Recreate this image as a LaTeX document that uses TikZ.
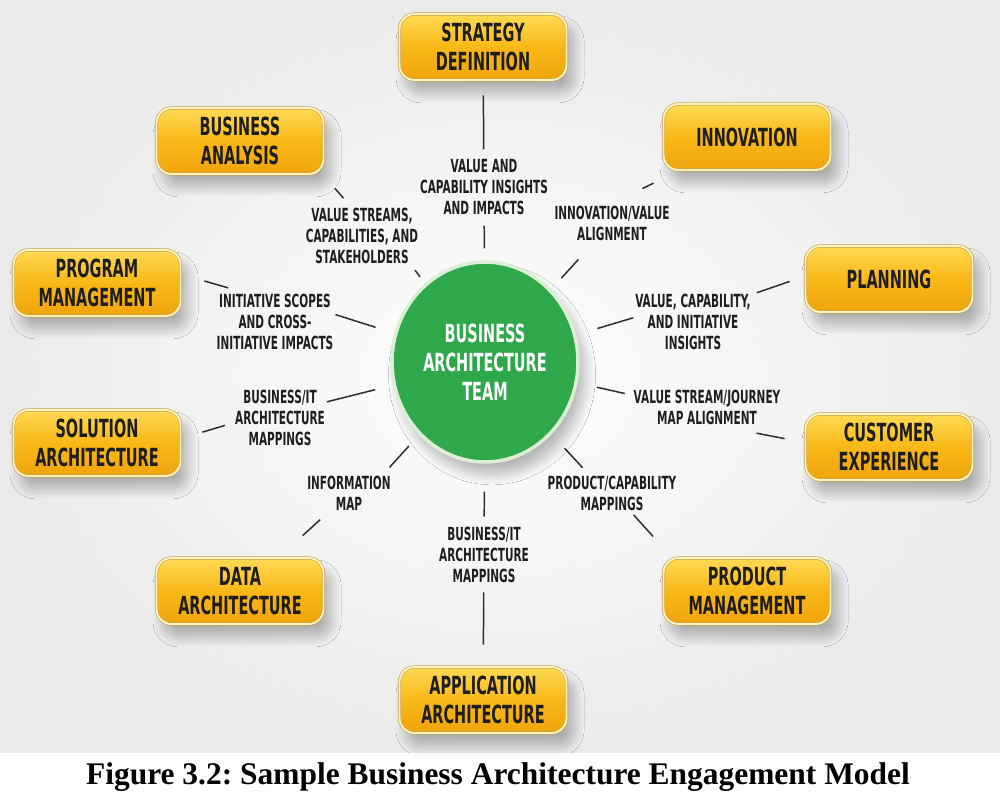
\documentclass[tikz,border=0pt]{standalone}
\usepackage{fontspec}
\setmainfont{Liberation Serif}
\newfontfamily\narrowfont[FakeStretch=0.58]{DejaVu Sans}
\usepackage{tikz}
\usetikzlibrary{shapes.geometric, shadows.blur}

\definecolor{boxtop}{HTML}{FFDA55}
\definecolor{boxmid}{HTML}{F9B818}
\definecolor{boxbot}{HTML}{EFA40C}
\definecolor{boxrim}{HTML}{FFF3C2}
\definecolor{boxedge}{HTML}{C9A24E}
\definecolor{teamgreen}{HTML}{2EA84B}
\definecolor{teamrim}{HTML}{DCEFD5}
\definecolor{linkgray}{HTML}{2E2E2E}
\definecolor{textdark}{HTML}{1E1E1E}
\definecolor{bggray}{HTML}{EBEBEB}

\begin{document}
\frenchspacing
\begin{tikzpicture}[
    x=0.02cm, y=-0.02cm,
    soft/.style={blur shadow={shadow xshift=4pt, shadow yshift=-7pt, shadow blur radius=6pt, shadow blur steps=15, shadow opacity=28}},
    unit/.style={rounded corners=3mm, minimum width=33.4mm, minimum height=13.2mm, align=center, inner sep=0pt,
        text=textdark, font=\narrowfont\bfseries\fontsize{14.2}{16.4}\selectfont,
        top color=boxtop, bottom color=boxbot, middle color=boxmid,
        draw=boxedge, double=boxrim, double distance=1.1pt, line width=0.35pt, soft},
    flow/.style={align=center, inner sep=1pt, text=textdark, font=\narrowfont\bfseries\fontsize{10.3}{11.9}\selectfont},
    link/.style={draw=linkgray, line width=0.85pt}
]
\useasboundingbox (0,0) rectangle (1000,804);
\shade[inner color=white, outer color=bggray] (0,0) rectangle (1000,752);

% centre
\node[ellipse, minimum width=37.2mm, minimum height=40mm, inner sep=0pt, fill=teamgreen, draw=teamrim, line width=2pt,
      align=center, text=white, font=\narrowfont\bfseries\fontsize{14.2}{16.4}\selectfont, soft]
      (team) at (485,362) {BUSINESS\\ARCHITECTURE\\TEAM};

% outer ring of units
\node[unit] (strat) at (483,47) {STRATEGY\\DEFINITION};
\node[unit] (innov) at (747,137) {INNOVATION};
\node[unit] (busan) at (240,141) {BUSINESS\\ANALYSIS};
\node[unit] (progm) at (97,283) {PROGRAM\\MANAGEMENT};
\node[unit] (plan) at (889,279) {PLANNING};
\node[unit] (solar) at (97,443) {SOLUTION\\ARCHITECTURE};
\node[unit] (cust) at (889,447) {CUSTOMER\\EXPERIENCE};
\node[unit] (data) at (240,591) {DATA\\ARCHITECTURE};
\node[unit] (prod) at (747,591) {PRODUCT\\MANAGEMENT};
\node[unit] (appl) at (483,700) {APPLICATION\\ARCHITECTURE};

% flow labels
\node[flow] (lstrat) at (484,187) {VALUE AND\\CAPABILITY INSIGHTS\\AND IMPACTS};
\node[flow] (linnov) at (612,223) {INNOVATION/VALUE\\ALIGNMENT};
\node[flow] (lbusan) at (362,236) {VALUE STREAMS,\\CAPABILITIES, AND\\STAKEHOLDERS};
\node[flow] (lprogm) at (275,322) {INITIATIVE SCOPES\\AND CROSS-\\INITIATIVE IMPACTS};
\node[flow] (lsolar) at (280,418) {BUSINESS/IT\\ARCHITECTURE\\MAPPINGS};
\node[flow] (ldata) at (349,493) {INFORMATION\\MAP};
\node[flow] (lappl) at (484,555) {BUSINESS/IT\\ARCHITECTURE\\MAPPINGS};
\node[flow] (lprod) at (612,493) {PRODUCT/CAPABILITY\\MAPPINGS};
\node[flow] (lcust) at (707,407) {VALUE STREAM/JOURNEY\\MAP ALIGNMENT};
\node[flow] (lplan) at (693,322) {VALUE, CAPABILITY,\\AND INITIATIVE\\INSIGHTS};

% links, broken by their labels
\draw[link, shorten <=3mm, shorten >=1.6mm] (strat) -- (lstrat);
\draw[link, shorten <=1.8mm, shorten >=2.4mm] (lstrat) -- (team);
\draw[link, shorten <=5.8mm, shorten >=6.8mm] (innov) -- (linnov.north);
\draw[link, shorten <=4.6mm, shorten >=3mm] (linnov.-133) -- (team);
\draw[link, shorten <=3.8mm, shorten >=2.1mm] (busan.-22) -- (lbusan.111);
\draw[link, shorten <=1.1mm, shorten >=1.6mm] (lbusan.-31) -- (team);
\draw[link, shorten <=4.9mm, shorten >=3.1mm] (progm.6) -- (lprogm.137);
\draw[link, shorten >=3.9mm] (lprogm.7) -- (team);
\draw[link, shorten <=4.5mm, shorten >=1.7mm] (solar.3) -- (lsolar.186);
\draw[link, shorten >=3.6mm] (lsolar.19) -- (team);
\draw[link, shorten <=2.2mm, shorten >=6.6mm] (ldata.223) -- (data.41);
\draw[link, shorten <=1.7mm, shorten >=3mm] (ldata.29) -- (team);
\draw[link, shorten <=1.5mm, shorten >=4.4mm] (lappl) -- (appl);
\draw[link, shorten <=5.6mm, shorten >=1.7mm] (team) -- (lappl);
\draw[link, shorten <=1.6mm, shorten >=3.8mm] (lprod.141) -- (team);
\draw[link, shorten <=0.7mm, shorten >=5.7mm] (lprod.-45) -- (prod.156);
\draw[link, shorten <=1.4mm, shorten >=3.9mm] (lcust.171) -- (team);
\draw[link, shorten <=7.1mm, shorten >=4.2mm] (lcust.-53) -- (cust.177);
\draw[link, shorten <=0.85mm, shorten >=3.3mm] (lplan.25) -- (plan.178);
\draw[link, shorten >=4.4mm] (lplan.176) -- (team);

% caption
\node[font=\bfseries\fontsize{17.9}{21}\selectfont] (caption) at (498,777) {Figure 3.2: Sample Business Architecture Engagement Model};
\end{tikzpicture}
\end{document}
